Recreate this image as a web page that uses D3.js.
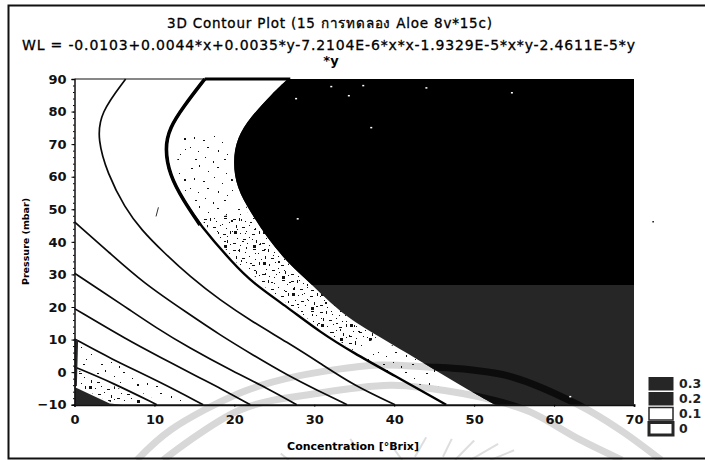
<!DOCTYPE html>
<html><head><meta charset="utf-8">
<style>html,body{margin:0;padding:0;background:#fff}svg{display:block}</style>
<script src="https://cdn.jsdelivr.net/npm/d3@7/dist/d3.min.js"></script>
</head><body><svg id="c" width="705" height="460"></svg>
<script>
const titleText = "3D Contour Plot (15 การทดลอง Aloe 8v*15c)";
const eqLine1 = "WL = -0.0103+0.0044*x+0.0035*y-7.2104E-6*x*x-1.9329E-5*x*y-2.4611E-5*y";
const eqLine2 = "*y";
const xTitle = "Concentration [°Brix]";
const yTitle = "Pressure (mbar)";
const xTicks = [0,10,20,30,40,50,60,70];
const yTicks = [-10,0,10,20,30,40,50,60,70,80,90];
const legendLevels = ["0.3","0.2","0.1","0"];

// contour lines: [concentration, pressure]
const line1 = [[0,1.6],[0,1.6],[4.8,-3.3],[10.3,-10],[10.3,-10]];
const line2 = [[0,10.2],[0,10.2],[4.4,4.3],[10.7,-3],[16.1,-10],[16.1,-10]];
const line3 = [[0,19.5],[0,19.5],[6.6,9.9],[10.7,4.6],[15.7,-1.8],[18.2,-4.9],[22,-10],[22,-10]];
const line4 = [[0,30.4],[0,30.4],[3.2,25.2],[6.8,19.3],[10.3,13.5],[14.1,7.8],[19.9,0.1],[24.1,-4.9],[27.8,-10],[27.8,-10]];
const line5 = [[0,46.1],[0,46.1],[4.4,36.6],[8.6,27.4],[14.1,18.2],[18.2,11.4],[22.3,5.3],[26.6,-0.9],[30.4,-5.6],[34.1,-10],[34.1,-10]];
const line6 = [[6.4,90],[6.4,90],[3.2,79.6],[2.9,71.3],[4.1,61.1],[6.3,50.4],[8.4,43.6],[11.1,36.9],[14.5,29.2],[18.2,22.1],[22.3,15.4],[26.6,9.2],[30.7,2.8],[34.9,-4],[40.1,-10],[40.1,-10]];
const line7 = [[16.3,90],[16.3,90],[13.6,81.4],[11.9,75],[11.3,68.8],[11.9,60.5],[13.6,52.8],[15.7,45.2],[19.8,33.5],[22.3,27.4],[26.6,20],[30.7,12.3],[34.9,5.9],[39.9,-0.9],[46.5,-10],[46.5,-10]];
const line7Heavy = [[16.3,90],[16.3,90],[13.6,81.4],[11.9,75],[11.3,68.8],[11.9,60.5],[13.6,52.8],[15.7,45.2],[15.7,45.2]];
const topBoundary = [[26.7,90],[26.7,90],[24.8,85.7],[22,78.3],[20.3,71.9],[19.8,64.5],[20.3,56.5],[22,49.2],[24.1,41.2],[26.7,33.5],[29.5,27.4],[32,21.2],[34.9,15.4],[39.5,8.9],[44.1,2.2],[48.2,-4],[52.6,-10],[52.6,-10]];
const darkCorners = [[70,-10],[70,90]];
const blackFloor = 26.75;
const cornerPatch = [[0,-4.6],[4.4,-9.6],[6,-10],[0,-10]];
const leftStrip = [[0,10.2],[0.45,9.8],[0.3,-4],[0,-5]];

// speckled zones
const zoneSparseUpper = [[13.5,73],[19,73],[20,56],[22,49],[17,47],[14,54],[12.6,62]];
const zoneMedium = [[15.8,47],[22,49],[26.7,33.5],[29,27.5],[24.5,26],[20.5,33]];
const zoneDense = [[22.5,28.5],[29.5,27.4],[34.9,15.4],[38,11],[35,6.5],[30.8,13.5],[26.8,20.8]];
const zoneSparseLower = [[36,4],[40,8.5],[45,2],[45.5,-4.5],[42,-3.5]];
const zoneCorner = [[0.5,0.4],[4.8,-4.1],[9.4,-9.7],[5,-9.7],[0.5,-4.5]];
const zoneCornerSparse = [[0.6,8.6],[4.4,3.4],[10.7,-4],[14.5,-9],[10.5,-8.6],[4.8,-2.4],[0.6,1.2]];

// small irregular dot tiles for the stipple
const tileSparse = [[3,4],[11,1],[20,7],[29,3],[38,9],[6,14],[15,17],[26,13],[34,19],[43,15],[2,24],[10,28],[19,24],[30,27],[39,31],[7,36],[17,34],[25,38],[36,36],[44,26]];
const tileDense = [[1,2],[7,1],[13,4],[21,1],[26,5],[4,8],[10,10],[17,8],[23,11],[2,14],[8,16],[14,14],[20,17],[27,14],[5,21],[11,22],[17,20],[24,23],[1,26],[8,28],[15,26],[21,28],[27,27]];

// faint background seal
const sealOuter = [[7.8,-27],[12,-17.8],[20.7,-6.4],[26.3,-2.1],[32.4,0.7],[38,2.2],[44.2,1.6],[49.5,0.7],[54.8,-1.5],[63,-10],[68.3,-17.8],[73.4,-27]];
const sealInner = [[11.1,-27],[20.7,-11.6],[30.7,-6.4],[39.5,-4],[44.1,-4.9],[52.4,-8.6],[57,-12.2],[63.3,-20.8],[68.5,-27]];
const sealRays = [[[25.8,-25],[26.8,-27]],[[34.5,-20.5],[35.5,-24]],[[39.5,-22],[41,-27]],[[44,-20],[42.6,-26]],[[47.2,-20.5],[46.1,-26]],[[50,-21],[47.6,-27]],[[53,-22],[49.5,-27]],[[55,-24],[52,-27]]];

const blackFlecks = [[36,88.2],[43.9,87.5],[54.6,86],[34.2,85.1],[37,75.3],[27.6,84.2],[32,87.9],[27.8,47.3],[61.9,-7.3]];
const strayDot = [72.3,46.4];
const strayStroke = [[10.5,50.6],[10.2,47.8]];

const svg = d3.select("#c");
const font = "'DejaVu Sans',sans-serif";
const x = d3.scaleLinear().domain([0,70]).range([74.5,634]);
const y = d3.scaleLinear().domain([-10,90]).range([404.7,79]);
const curve = d3.line().x(d=>x(d[0])).y(d=>y(d[1])).curve(d3.curveBasis);
const poly = d3.line().x(d=>x(d[0])).y(d=>y(d[1])).curve(d3.curveLinearClosed);
const defs = svg.append("defs");

function tile(id,pts,w,h,big){
  const p = defs.append("pattern").attr("id",id).attr("patternUnits","userSpaceOnUse").attr("width",w).attr("height",h);
  p.selectAll("rect").data(pts).join("rect").attr("x",d=>d[0]).attr("y",d=>d[1]).attr("width",(d,i)=>i%3==0?big:1).attr("height",(d,i)=>i%4==1?big:1).attr("fill","#111");
}
tile("sparse",tileSparse,47,41,2);
tile("dense",tileDense,29,31,3);

const regionPath = curve(topBoundary)+"L"+darkCorners.map(d=>x(d[0])+","+y(d[1])).join("L")+"Z";
defs.append("clipPath").attr("id","darkClip").append("path").attr("d",regionPath);
defs.append("clipPath").attr("id","blackClip").append("rect").attr("x",x(0)).attr("y",y(90)).attr("width",x(70)-x(0)).attr("height",y(blackFloor)-y(90));

svg.append("rect").attr("width",705).attr("height",460).attr("fill","#fff");

// seal under everything
const sealLine = d3.line().x(d=>x(d[0])).y(d=>y(d[1])).curve(d3.curveCatmullRom.alpha(0.5));
[sealOuter,sealInner].forEach(a=>svg.append("path").attr("d",sealLine(a)).attr("fill","none").attr("stroke","#d8d8d8").attr("stroke-width",7));
svg.selectAll(".ray").data(sealRays).join("path").attr("class","ray").attr("d",d=>sealLine(d)).attr("fill","none").attr("stroke","#dedede").attr("stroke-width",2);

// stipple
[[zoneSparseUpper,"sparse"],[zoneMedium,"sparse"],[zoneMedium,"dense"],[zoneDense,"dense"],[zoneDense,"sparse"],[zoneSparseLower,"sparse"],[zoneCorner,"dense"],[zoneCornerSparse,"sparse"]]
 .forEach(([z,t])=>svg.append("path").attr("d",poly(z)).attr("fill",`url(#${t})`));

// dark contour region
svg.append("path").attr("d",regionPath).attr("fill","#262626");
svg.append("g").attr("clip-path","url(#blackClip)").append("path").attr("d",regionPath).attr("fill","#000");
const darkArcs = svg.append("g").attr("clip-path","url(#darkClip)");
[sealOuter,sealInner].forEach(a=>darkArcs.append("path").attr("d",sealLine(a)).attr("fill","none").attr("stroke","#0c0c0c").attr("stroke-width",7));

svg.selectAll(".fleck").data(blackFlecks).join("rect").attr("class","fleck").attr("x",d=>x(d[0])).attr("y",d=>y(d[1])).attr("width",2).attr("height",1.5).attr("fill","#fff");
svg.append("rect").attr("x",x(strayDot[0])).attr("y",y(strayDot[1])).attr("width",1.5).attr("height",1.5).attr("fill","#111");
svg.append("path").attr("d",curve(strayStroke)).attr("fill","none").attr("stroke","#333").attr("stroke-width",1);

// contour lines
[line1,line2,line3,line4,line5,line6].forEach(l=>svg.append("path").attr("d",curve(l)).attr("fill","none").attr("stroke","#0a0a0a").attr("stroke-width",1.7));
svg.append("path").attr("d",curve(line7)).attr("fill","none").attr("stroke","#000").attr("stroke-width",2.4);
svg.append("path").attr("d",curve(line7Heavy)).attr("fill","none").attr("stroke","#000").attr("stroke-width",3.6);
svg.append("path").attr("d",poly(cornerPatch)).attr("fill","#262626");
svg.append("path").attr("d",poly(leftStrip)).attr("fill","#262626");

// axes
const gx = svg.append("g").attr("transform",`translate(0,${y(-10)})`).call(d3.axisBottom(x).tickValues(xTicks).tickSize(2).tickPadding(8).tickFormat(d3.format("d")));
const gy = svg.append("g").attr("transform",`translate(${x(0)},0)`).call(d3.axisLeft(y).tickValues(yTicks).tickSize(3).tickPadding(5).tickFormat(d3.format("d")));
const gyMinor = svg.append("g").attr("transform",`translate(${x(0)},0)`).call(d3.axisLeft(y).ticks(50).tickSize(1.5).tickFormat(""));
gyMinor.select(".domain").remove();
[gx,gy].forEach(g=>{g.selectAll("text").attr("font-family",font).attr("font-weight","bold").attr("font-size",13).attr("fill","#111");g.select(".domain").attr("stroke","#111").attr("stroke-width",1.5);});
gx.select(".domain").attr("stroke-width",2);
svg.append("line").attr("x1",x(0)).attr("x2",x(26.7)).attr("y1",y(90)).attr("y2",y(90)).attr("stroke","#111").attr("stroke-width",1.2);
svg.append("line").attr("x1",x(16.3)).attr("x2",x(27)).attr("y1",y(90)).attr("y2",y(90)).attr("stroke","#000").attr("stroke-width",3);

// titles
const T=(s,xp,yp,o={})=>svg.append("text").text(s).attr("x",xp).attr("y",yp).attr("font-family",font).attr("fill","#000").attr("font-size",o.size||12).attr("font-weight",o.w||"normal").attr("text-anchor",o.a||"middle").attr("transform",o.t||null).attr("stroke",o.s?"#000":null).attr("stroke-width",o.s||null);
T(titleText,167,28,{size:13.5,a:"start",s:0.3}).attr("textLength",325);
T(eqLine1,22,50,{size:14,a:"start",s:0.3}).attr("textLength",613);
T(eqLine2,331,65,{size:13,w:"bold"});
T(xTitle,353,450,{size:11,w:"bold"});
T(yTitle,0,0,{size:9.5,w:"bold",t:"translate(28.5,241.5) rotate(-90)"});

// legend
const legY = d3.scalePoint().domain(legendLevels).range([377,422]);
const legFill = {"0.3":"#262626","0.2":"#262626","0.1":"#fff","0":"#fff"};
const legStroke = {"0.3":1,"0.2":1,"0.1":1.5,"0":3};
const lg = svg.selectAll(".lg").data(legendLevels).join("g").attr("class","lg");
lg.append("rect").attr("x",649).attr("y",d=>legY(d)+0.5).attr("width",24).attr("height",12.5).attr("fill",d=>legFill[d]).attr("stroke","#262626").attr("stroke-width",d=>legStroke[d]);
lg.append("text").text(d=>d).attr("x",679).attr("y",d=>legY(d)+11).attr("font-family",font).attr("font-size",12.5).attr("font-weight","bold").attr("fill","#222");

// outer frame
svg.append("path").attr("d","M710,5.5H8.5V458.5H710").attr("fill","none").attr("stroke","#111").attr("stroke-width",2);
</script></body></html>
